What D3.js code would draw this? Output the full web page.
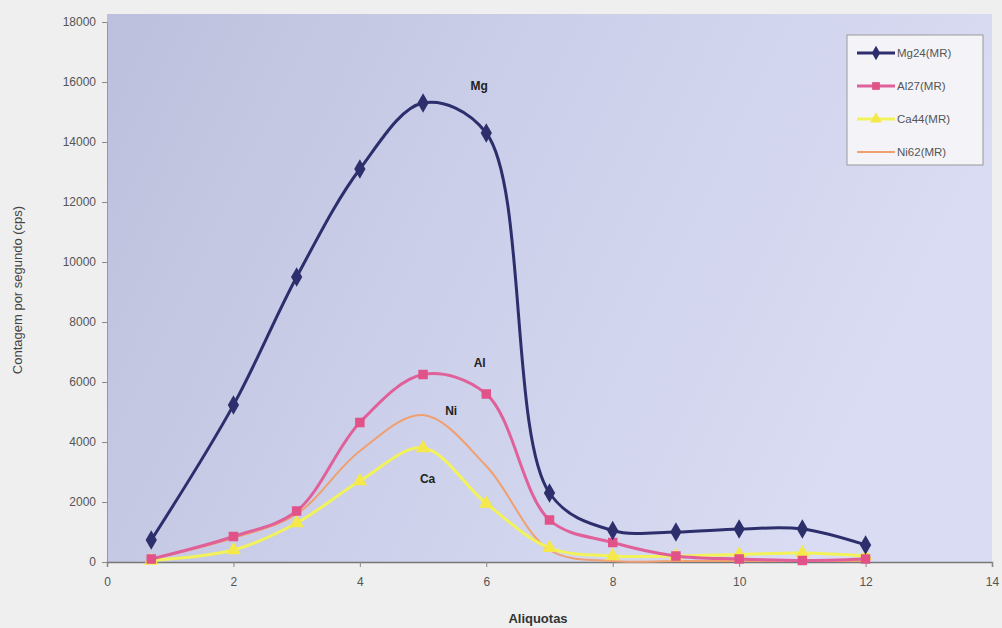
<!DOCTYPE html>
<html><head><meta charset="utf-8">
<script src="https://cdn.jsdelivr.net/npm/d3@7/dist/d3.min.js"></script>
<style>
body{margin:0;background:#efefef;}
svg{display:block;font-family:Arial,"Liberation Sans",sans-serif;}
</style></head>
<body><svg id="c" width="1002" height="628"></svg>
<script>
const aliquots = [0.7, 2, 3, 4, 5, 6, 7, 8, 9, 10, 11, 12];
const mg24 = [730, 5230, 9500, 13100, 15300, 14300, 2300, 1050, 1000, 1100, 1100, 570];
const al27 = [100, 850, 1700, 4650, 6250, 5600, 1400, 650, 200, 100, 50, 100];
const ca44 = [50, 400, 1300, 2700, 3800, 1950, 470, 200, 200, 250, 300, 200];
const ni62 = [100, 800, 1600, 3700, 4900, 3200, 400, 30, 30, 30, 30, 30];
const seriesNames = ["Mg24(MR)", "Al27(MR)", "Ca44(MR)", "Ni62(MR)"];
const peakLabels = ["Mg", "Al", "Ca", "Ni"];
const xTicks = [0, 2, 4, 6, 8, 10, 12, 14];
const yTicks = [0, 2000, 4000, 6000, 8000, 10000, 12000, 14000, 16000, 18000];

const svg = d3.select("#c");
const L = 107, R = 992, T = 22, B = 562;
const x = d3.scaleLinear().domain([0, 14]).range([L, R]);
const y = d3.scaleLinear().domain([0, 18000]).range([B, T]);

const defs = svg.append("defs");
const g = defs.append("linearGradient").attr("id", "bg").attr("x1", "0").attr("y1", "0").attr("x2", "1").attr("y2", "0.3");
g.append("stop").attr("offset", "0").attr("stop-color", "#bcc0dc");
g.append("stop").attr("offset", "0.5").attr("stop-color", "#ccd0ea");
g.append("stop").attr("offset", "1").attr("stop-color", "#d9dcf2");
svg.append("rect").attr("x", L).attr("y", 14).attr("width", R - L).attr("height", B - 14).attr("fill", "url(#bg)");

// axes
const ya = svg.append("g").attr("transform", `translate(${L},0)`)
  .call(d3.axisLeft(y).tickValues(yTicks).tickSize(5).tickPadding(6).tickFormat(d3.format("d")));
const xa = svg.append("g").attr("transform", `translate(0,${B})`)
  .call(d3.axisBottom(x).tickValues(xTicks).tickSize(5).tickPadding(10).tickFormat(d3.format("d")));
[ya, xa].forEach(a => {
  a.select(".domain").attr("stroke", "#777").attr("stroke-width", 1.5);
  a.selectAll(".tick line").attr("stroke", "#888");
  a.selectAll("text").attr("fill", "#555").attr("font-size", 12);
});
ya.select(".domain").attr("stroke", "#999").attr("stroke-width", 1);

svg.append("text").attr("transform", "translate(22,290) rotate(-90)").attr("text-anchor", "middle")
  .attr("font-size", 13).attr("fill", "#444").text("Contagem por segundo (cps)");
svg.append("text").attr("x", 538).attr("y", 623).attr("text-anchor", "middle")
  .attr("font-size", 13).attr("fill", "#333").attr("font-weight", "bold").text("Aliquotas");

const series = [
  {name: seriesNames[0], vals: mg24, color: "#2c2f6c", w: 3, mark: "diamond", mcol: "#2c2f6c"},
  {name: seriesNames[1], vals: al27, color: "#e0609a", w: 3, mark: "square", mcol: "#e05288"},
  {name: seriesNames[2], vals: ca44, color: "#f2f25a", w: 3, mark: "triangle", mcol: "#f4e84a"},
  {name: seriesNames[3], vals: ni62, color: "#f0a070", w: 2, mark: null, mcol: "#f0a070"}
];
const line = d3.line().x(d => x(d[0])).y(d => y(d[1])).curve(d3.curveCatmullRom.alpha(0.5));
const symMap = {diamond: d3.symbolDiamond, square: d3.symbolSquare, triangle: d3.symbolTriangle};
const drawOrder = [3, 2, 1, 0];
drawOrder.forEach(i => {
  const s = series[i];
  const pts = aliquots.map((a, k) => [a, s.vals[k]]);
  svg.append("path").attr("d", line(pts)).attr("fill", "none").attr("stroke", s.color).attr("stroke-width", s.w);
  if (s.mark) {
    svg.append("g").selectAll("path").data(pts).join("path")
      .attr("transform", d => `translate(${x(d[0])},${y(d[1])})`)
      .attr("d", d3.symbol().type(symMap[s.mark]).size(s.mark === "diamond" ? 110 : 90))
      .attr("fill", s.mcol);
  }
});

// peak labels
const labelPos = [[5.75, 15750], [5.8, 6500], [4.95, 2650], [5.35, 4900]];
peakLabels.forEach((t, i) => {
  svg.append("text").attr("x", x(labelPos[i][0])).attr("y", y(labelPos[i][1]))
    .attr("font-size", 12).attr("font-weight", "bold").attr("fill", "#222").text(t);
});

// legend
const lg = svg.append("g").attr("transform", "translate(847,35)");
lg.append("rect").attr("width", 136).attr("height", 130).attr("fill", "#f4f4f8").attr("stroke", "#999");
series.forEach((s, i) => {
  const yy = 18 + i * 33;
  lg.append("line").attr("x1", 10).attr("x2", 48).attr("y1", yy).attr("y2", yy).attr("stroke", s.color).attr("stroke-width", s.w);
  if (s.mark) lg.append("path").attr("transform", `translate(29,${yy})`).attr("d", d3.symbol().type(symMap[s.mark]).size(60)).attr("fill", s.mcol);
  lg.append("text").attr("x", 50).attr("y", yy + 4).attr("font-size", 11.5).attr("fill", "#555").text(s.name);
});
</script></body></html>
